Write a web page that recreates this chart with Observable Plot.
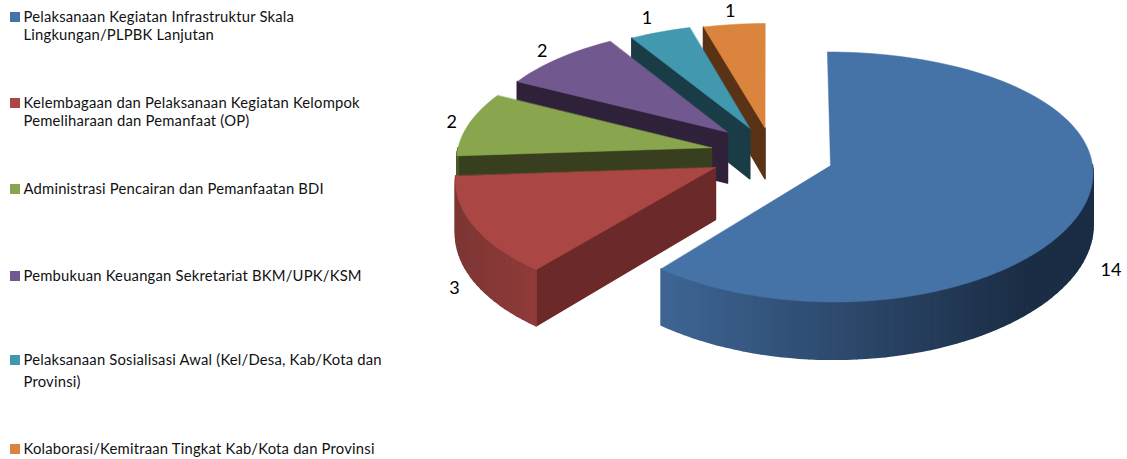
<!DOCTYPE html>
<html><head><meta charset="utf-8">
<style>html,body{margin:0;padding:0;background:#fff}svg{display:block}.legend-text text{letter-spacing:.2px}</style>
<script src="https://cdn.jsdelivr.net/npm/d3@7"></script>
<script src="https://cdn.jsdelivr.net/npm/@observablehq/plot@0.6"></script>
</head><body><div id="chart"></div>
<script>
// --- data
const categories = [
  "Pelaksanaan Kegiatan Infrastruktur Skala\nLingkungan/PLPBK Lanjutan",
  "Kelembagaan dan Pelaksanaan Kegiatan Kelompok\nPemeliharaan dan Pemanfaat (OP)",
  "Administrasi Pencairan dan Pemanfaatan BDI",
  "Pembukuan Keuangan Sekretariat BKM/UPK/KSM",
  "Pelaksanaan Sosialisasi Awal (Kel/Desa, Kab/Kota dan\nProvinsi)",
  "Kolaborasi/Kemitraan Tingkat Kab/Kota dan Provinsi"
];
const values = [14, 3, 2, 2, 1, 1];

// --- styles
const topColors  = ["#4572a7", "#aa4643", "#89a54e", "#71588f", "#4198af", "#db843d"];
const wallColors = ["#1b2d45", "#6b2a29", "#383f1e", "#2e2139", "#1a3c47", "#5a3316"];
const rimFrom    = ["#3e6594", "#7d3634", "#4a5a28", "#2e2139", "#1a3c47", "#5a3316"];
const rimTo      = ["#1b2d45", "#8f3b39", "#4a5a28", "#2e2139", "#1a3c47", "#5a3316"];

// --- layout of the exploded, tilted pie
const explodeU = [0, -0.439, -0.457, -0.397, -0.31, -0.25];
const explodeV = [0, 0.016, -0.145, -0.275, -0.31, -0.31];
const sliceReach = [1, 0.985, 0.98, 0.97, 0.965, 0.97];
const labelReach = [1.11, 1.06, 1.05, 1.07, 1.12, 1.1];
const widthTaper = [0.05, 0.092, 0.092, 0.092, 0.092, 0.092];
const view = {cx: 830, cy: 165, px: 765, rx: 262, ry: 124, k: 0.092, depth: 52};
const project = (i, u, v, h = 0) => {
  const s = 1 / (1 - view.k * v);
  const sx = 1 / (1 - widthTaper[i] * v);
  return {
    x: view.px + (u * view.rx + view.cx - view.px) * sx,
    y: view.cy + (v * view.ry + h * view.depth) * s
  };
};

const arcs = d3.pie().sort(null)(values);
const at = (i, a, r = 1, h = 0) =>
  project(i, explodeU[i] + r * Math.sin(a), explodeV[i] - r * Math.cos(a), h);

let nextId = 0;
const addPoly = (list, pts, color) => {
  const id = nextId++;
  pts.forEach(p => list.push({...p, id, color}));
};
const layers = [];
// back to front: last slice first
for (let i = values.length - 1; i >= 0; --i) {
  const {startAngle: a0, endAngle: a1} = arcs[i];
  const R = sliceReach[i];
  const n = Math.ceil((a1 - a0) / (Math.PI / 90));
  const angles = d3.range(n + 1).map(j => a0 + (a1 - a0) * j / n);
  const wall = [], top = [];
  // radial wall facing the viewer
  if (Math.sin(a0) < -1e-6)
    addPoly(wall, [at(i, 0, 0), at(i, a0, R), at(i, a0, R, 1), at(i, 0, 0, 1)], wallColors[i]);
  // outer wall, shaded left to right across the front
  const mix = d3.interpolateRgb(rimFrom[i], rimTo[i]);
  const xs0 = at(i, a1, R).x;
  const xs1 = Math.max(a0 > Math.PI / 2 ? at(i, a0, R).x : at(i, Math.PI * 0.75, R).x, xs0 + 1);
  for (let j = 0; j < n; ++j) {
    const b0 = angles[j], b1 = angles[j + 1];
    if (Math.cos((b0 + b1) / 2) > 0) continue;
    const t = Math.min(1, Math.max(0, (at(i, (b0 + b1) / 2, R).x - xs0) / (xs1 - xs0)));
    addPoly(wall, [at(i, b0, R), at(i, b1, R), at(i, b1, R, 1), at(i, b0, R, 1)], mix(t));
  }
  // top face
  addPoly(top, [at(i, 0, 0), ...angles.map(a => at(i, a, R))], topColors[i]);
  layers.push({wall, top});
}

const dataLabels = values.map((v, i) => {
  const mid = (arcs[i].startAngle + arcs[i].endAngle) / 2;
  const front = -Math.cos(mid) > 0.2;
  return {...at(i, mid, labelReach[i], front ? 1.05 : 0), text: String(v)};
});

// --- legend
const legendY = [[17, 35], [103, 121], [189], [276], [360, 382], [449]];
const legendText = categories.flatMap((c, i) =>
  c.split("\n").map((t, j) => ({text: t, y: legendY[i][j]})));
const legendKeys = categories.map((c, i) => ({y: legendY[i][0], color: topColors[i]}));

const polyMark = (list, w) => Plot.line(list, {x: "x", y: "y", z: "id", fill: "color", stroke: "color", strokeWidth: w, curve: "linear-closed"});

const chart = Plot.plot({
  width: 1127, height: 459, margin: 0,
  x: {domain: [0, 1127], range: [0, 1127], axis: null},
  y: {domain: [0, 459], range: [0, 459], axis: null},
  style: {background: "#fff"},
  marks: [
    layers.flatMap(l => [polyMark(l.wall, 1.6), polyMark(l.top, 0.5)]),
    Plot.text(dataLabels, {x: "x", y: "y", text: "text", fontSize: 18, fontFamily: "Lato, Carlito, sans-serif", fill: "#000"}),
    Plot.rect(legendKeys, {x1: () => 10, x2: () => 20, y1: d => d.y - 5, y2: d => d.y + 5, fill: "color"}),
    Plot.text(legendText, {x: () => 23, y: "y", text: "text", textAnchor: "start", fontSize: 14.8, fontFamily: "Lato, Carlito, sans-serif", fill: "#111", className: "legend-text"})
  ]
});
document.getElementById("chart").append(chart);
</script></body></html>
